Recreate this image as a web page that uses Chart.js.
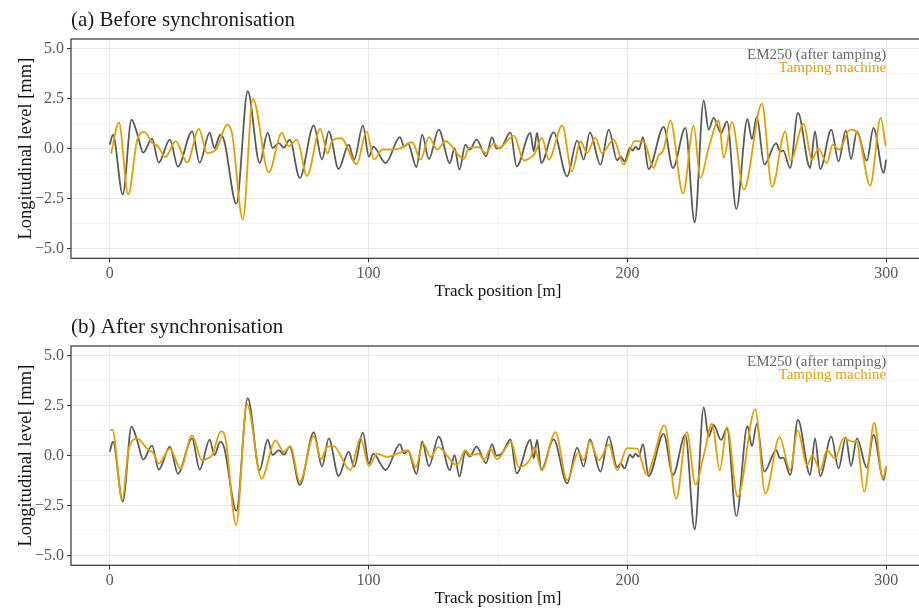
<!DOCTYPE html>
<html>
<head>
<meta charset="utf-8">
<script src="https://cdn.jsdelivr.net/npm/chart.js@4.4.1/dist/chart.umd.min.js"></script>
<style>
html, body { margin: 0; padding: 0; background: #fff; overflow: hidden; }
#wrap { position: relative; width: 919px; height: 609px; overflow: hidden; }
.panel { position: absolute; left: 0; width: 935px; height: 302px; }
</style>
</head>
<body>
<div id="wrap">
  <div class="panel" style="top:0"><canvas id="chartA"></canvas></div>
  <div class="panel" style="top:307px"><canvas id="chartB"></canvas></div>
</div>
<script>
// EM250 measurement (same in both panels), track position [m] / level [mm]
const emX = [0, 1.2, 5.0, 8.4, 10.6, 12.9, 16.3, 18.9, 23.2, 26.3, 31.8, 34.7, 38.6, 40.4, 42.7, 44.2, 48.9, 53.3, 57.9, 61.0, 62.9, 65.3, 67.3, 69.5, 73.4, 78.8, 82.0, 84.6, 88.4, 92.3, 94.4, 97.8, 100.1, 101.8, 106.6, 112.1, 113.7, 115.2, 118.5, 120.7, 123.3, 127.1, 131.4, 133.2, 135.1, 137.4, 139.1, 141.7, 145.4, 147.7, 149.4, 151.6, 154.8, 157.2, 162.5, 163.8, 165.1, 166.7, 171.5, 176.7, 180.6, 183.1, 185.5, 189.6, 192.8, 196.0, 197.4, 198.9, 201.0, 202.0, 203.1, 204.4, 206.0, 208.2, 214.0, 217.6, 222.4, 226.0, 229.5, 231.4, 233.3, 236.2, 238.5, 242.1, 246.4, 248.1, 250.0, 252.9, 257.5, 259.0, 260.2, 262.9, 265.9, 270.6, 272.5, 274.5, 278.8, 281.6, 284.4, 286.4, 288.7, 292.5, 295.1, 299.0, 300.0];
const emY = [0.2, 0.7, -2.3, 1.45, 0.75, -0.2, 0.5, -0.7, 0.45, -0.9, 0.87, -0.7, 0.8, 0.03, 0.7, 0.4, -2.76, 2.88, -0.72, 0.8, 0.03, 0.28, 0.05, 0.45, -1.47, 1.17, -0.55, 0.87, -1.02, 0.2, -0.55, 1.15, -0.4, 0.1, -0.72, 0.58, 0.1, 0.25, -0.92, 0.7, -0.52, 0.95, -0.72, 0.03, -1.05, 0.2, -0.05, 0.45, -0.38, 0.58, 0.0, 0.12, 0.82, -0.89, 0.79, -0.13, 0.79, -0.72, 0.82, -1.39, 0.4, -0.55, 0.82, -0.8, 0.95, -0.58, -0.4, -0.64, 0.05, -0.1, 0.1, -0.05, 0.58, -1.02, 1.09, -0.97, 1.04, -3.7, 2.42, 0.95, 1.54, 0.79, 1.37, -3.03, 1.49, 0.48, 1.59, -0.8, 0.28, -0.13, -0.1, -0.97, 1.79, -0.97, 0.87, -1.02, 0.95, -0.64, 0.92, -0.52, 0.87, -0.6, 1.04, -1.22, -0.55];

// tamping machine, before synchronisation
const tampAX = [0.5, 3.5, 7.1, 10.6, 13.4, 16.4, 18.6, 21.5, 25.4, 29.9, 34.4, 37.6, 40.2, 41.4, 45.3, 47.2, 51.4, 55.3, 61.4, 66.5, 69.1, 72.3, 76.2, 81.3, 84.2, 85.8, 89.3, 95.4, 99.2, 102.1, 105.3, 109.8, 112.3, 116.8, 120.1, 123.3, 126.5, 129.7, 136.8, 138.7, 142.6, 145.2, 148.4, 150.3, 156.1, 160.0, 163.2, 164.3, 167.0, 169.6, 174.8, 178.6, 181.9, 184.4, 187.6, 190.2, 194.7, 198.6, 202.8, 206.5, 210.1, 212.0, 214.0, 216.6, 221.5, 225.6, 228.2, 231.4, 235.3, 237.2, 240.4, 245.0, 252.0, 255.9, 261.0, 263.0, 268.1, 271.3, 273.8, 277.1, 279.3, 281.8, 286.1, 289.3, 293.8, 297.9, 299.8];
const tampAY = [-0.25, 1.32, -2.3, 0.45, 0.84, 0.28, 0.12, -0.42, 0.37, -0.69, 0.99, -0.22, -0.13, 0.03, 1.2, 0.78, -3.56, 2.49, -1.19, 0.8, 0.12, 0.45, -1.37, 0.99, -0.25, 0.37, 0.53, -0.78, 0.87, -0.55, -0.05, -0.05, 0.03, 0.32, -0.55, 0.58, -0.05, 0.37, -0.52, 0.03, 0.08, -0.22, 0.28, 0.03, 0.65, -0.59, -0.39, -0.22, 0.54, -0.55, 1.15, -1.14, 0.37, -0.22, 0.54, -0.22, 0.45, -0.8, 0.38, 0.33, -0.97, -0.35, -0.05, 1.42, -2.26, 1.15, -1.47, 0.03, 1.42, -0.45, 1.34, -2.06, 2.26, -1.92, 0.87, -0.6, 1.25, -0.55, 0.0, -0.72, 0.2, -0.05, 0.95, 0.7, -1.86, 1.54, 0.12];

// tamping machine, after synchronisation
const tampBX = [0.2, 1.0, 4.8, 7.3, 10.6, 14.4, 17.0, 18.9, 23.2, 27.3, 31.8, 35.6, 37.6, 39.5, 43.0, 44.7, 48.8, 53.0, 58.6, 64.0, 67.2, 69.8, 73.4, 78.8, 81.6, 83.9, 86.5, 92.9, 96.9, 100.1, 103.3, 107.2, 111.1, 115.2, 118.2, 121.1, 124.0, 126.8, 134.2, 137.4, 139.3, 142.6, 144.6, 147.1, 149.6, 155.1, 158.0, 162.5, 164.0, 166.9, 172.2, 176.7, 181.1, 183.1, 185.5, 189.0, 192.8, 196.0, 199.9, 203.7, 207.6, 209.8, 214.3, 218.9, 223.0, 226.3, 229.5, 232.7, 235.7, 238.5, 242.6, 249.4, 253.3, 258.8, 262.9, 265.8, 269.4, 271.5, 274.5, 277.1, 280.3, 283.5, 286.7, 288.7, 291.5, 295.4, 298.7, 300.0];
const tampBY = [1.28, 1.3, -2.23, 0.35, 0.85, 0.35, 0.1, -0.4, 0.35, -0.65, 1.02, -0.23, -0.15, 0.02, 1.22, 0.85, -3.48, 2.6, -1.15, 0.77, 0.18, 0.48, -1.32, 0.98, -0.18, 0.43, 0.48, -0.73, 0.88, -0.52, 0.1, -0.07, 0.1, 0.27, -0.57, 0.6, -0.07, 0.43, -0.48, 0.27, 0.02, 0.1, -0.23, 0.35, -0.18, 0.68, -0.57, -0.15, 0.43, -0.73, 1.18, -1.23, 0.18, -0.23, 0.72, -0.23, 0.55, -0.73, 0.38, 0.35, -0.98, -0.23, 1.52, -2.15, 1.18, -1.45, 0.02, 1.6, -0.73, 1.43, -2.07, 2.32, -1.9, 0.93, -0.73, 1.27, -0.48, 0.0, -0.73, 0.27, -0.15, 0.88, 0.72, 0.68, -1.82, 1.65, -1.15, -0.52];

const xTicks = [0, 100, 200, 300];
const xMinor = [50, 150, 250];
const yTicks = [-5, -2.5, 0, 2.5, 5];
const yMinor = [-3.75, -1.25, 1.25, 3.75];
const legendLabels = ['EM250 (after tamping)', 'Tamping machine'];

const GREY = '#5a5a5a';
const ORANGE = '#E69F00';
const SERIF = '"Liberation Serif", "DejaVu Serif", serif';

const toPoints = (xs, ys) => xs.map((x, i) => ({ x: x, y: ys[i] }));

// panel border, title and the in-panel labels
const panelDecor = {
    id: 'panelDecor',
    afterDraw(chart, args, opts) {
        const { ctx, chartArea: a, scales } = chart;
        ctx.save();
        ctx.strokeStyle = '#333333';
        ctx.lineWidth = 1.2;
        ctx.strokeRect(a.left, a.top, a.right - a.left, a.bottom - a.top);

        ctx.fillStyle = '#1a1a1a';
        ctx.font = '21px ' + SERIF;
        ctx.textAlign = 'left';
        ctx.textBaseline = 'alphabetic';
        ctx.fillText(opts.title, a.left, a.top - 13);

        const lx = scales.x.getPixelForValue(300);
        const ly = scales.y.getPixelForValue(5);
        ctx.font = '15px ' + SERIF;
        ctx.textAlign = 'right';
        ctx.fillStyle = '#666666';
        ctx.fillText(legendLabels[0], lx, ly + 10);
        ctx.fillStyle = ORANGE;
        ctx.fillText(legendLabels[1], lx, ly + 23.5);
        ctx.restore();
    }
};

const makePanel = (canvasId, title, tampX, tampY) => {
    const ctx = document.getElementById(canvasId).getContext('2d');
    const tickFont = { family: SERIF, size: 16 };

    return new Chart(ctx, {
        type: 'scatter',
        data: {
            datasets: [
                {
                    label: legendLabels[1],
                    data: toPoints(tampX, tampY),
                    showLine: true,
                    borderColor: ORANGE,
                    borderWidth: 1.8,
                    pointRadius: 0,
                    cubicInterpolationMode: 'monotone',
                    order: 0
                },
                {
                    label: legendLabels[0],
                    data: toPoints(emX, emY),
                    showLine: true,
                    borderColor: GREY,
                    borderWidth: 1.8,
                    pointRadius: 0,
                    cubicInterpolationMode: 'monotone',
                    order: 1
                }
            ]
        },
        options: {
            responsive: true,
            maintainAspectRatio: false,
            animation: false,
            layout: { padding: { left: 15, right: 10, top: 39, bottom: 0 } },
            plugins: {
                legend: { display: false },
                tooltip: { enabled: false },
                panelDecor: { title: title }
            },
            scales: {
                x: {
                    type: 'linear',
                    min: -15,
                    max: 315,
                    afterBuildTicks: (scale) => {
                        scale.ticks = xTicks.concat(xMinor).sort((p, q) => p - q).map(v => ({ value: v }));
                    },
                    afterFit: (scale) => { scale.height = 43.7; },
                    border: { display: false },
                    grid: {
                        color: (c) => xTicks.includes(c.tick && c.tick.value) ? '#e6e6e6' : '#f1f1f1',
                        lineWidth: (c) => xTicks.includes(c.tick && c.tick.value) ? 1 : 0.8,
                        tickColor: (c) => xTicks.includes(c.tick && c.tick.value) ? '#333333' : 'rgba(0,0,0,0)',
                        tickLength: 4
                    },
                    ticks: {
                        autoSkip: false,
                        maxRotation: 0,
                        padding: 2,
                        color: '#595959',
                        font: tickFont,
                        callback: (v) => xTicks.includes(v) ? String(v) : ''
                    },
                    title: {
                        display: true,
                        text: 'Track position [m]',
                        color: '#111111',
                        font: { family: SERIF, size: 17 },
                        padding: 0
                    }
                },
                y: {
                    type: 'linear',
                    min: -5.5,
                    max: 5.5,
                    afterBuildTicks: (scale) => {
                        scale.ticks = yTicks.concat(yMinor).sort((p, q) => p - q).map(v => ({ value: v }));
                    },
                    afterFit: (scale) => { scale.width = 56; },
                    border: { display: false },
                    grid: {
                        color: (c) => yTicks.includes(c.tick && c.tick.value) ? '#e6e6e6' : '#f1f1f1',
                        lineWidth: (c) => yTicks.includes(c.tick && c.tick.value) ? 1 : 0.8,
                        tickColor: (c) => yTicks.includes(c.tick && c.tick.value) ? '#333333' : 'rgba(0,0,0,0)',
                        tickLength: 4
                    },
                    ticks: {
                        autoSkip: false,
                        padding: 3,
                        color: '#595959',
                        font: tickFont,
                        callback: (v) => yTicks.includes(v) ? v.toFixed(1).replace('-', '\u2212') : ''
                    },
                    title: {
                        display: true,
                        text: 'Longitudinal level [mm]',
                        color: '#111111',
                        font: { family: SERIF, size: 18.5 },
                        padding: 0
                    }
                }
            }
        },
        plugins: [panelDecor]
    });
};

makePanel('chartA', '(a) Before synchronisation', tampAX, tampAY);
makePanel('chartB', '(b) After synchronisation', tampBX, tampBY);
</script>
</body>
</html>
